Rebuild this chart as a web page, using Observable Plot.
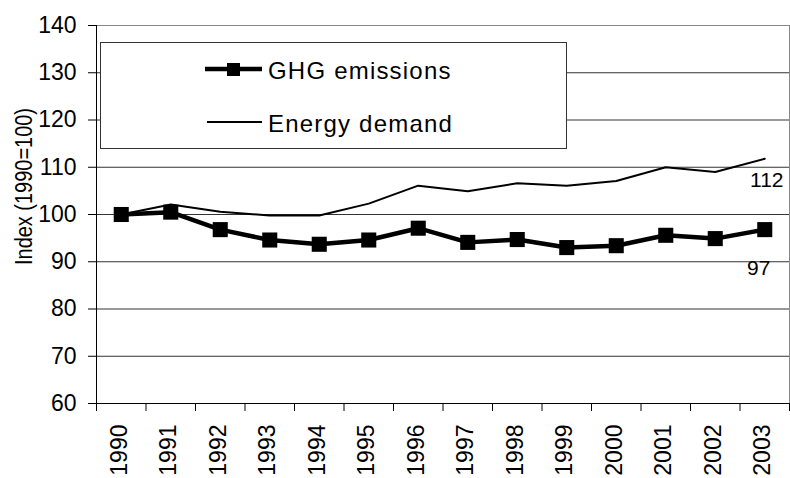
<!DOCTYPE html>
<html>
<head>
<meta charset="utf-8">
<script src="https://cdn.jsdelivr.net/npm/d3@7"></script>
<script src="https://cdn.jsdelivr.net/npm/@observablehq/plot@0.6"></script>
<style>
  html, body { margin: 0; padding: 0; background: #fff; }
  #wrap { position: relative; width: 790px; height: 478px; overflow: hidden; font-family: "Liberation Sans", Arial, sans-serif; }
  #legend { position: absolute; left: 100px; top: 42px; width: 465px; height: 105px; border: 1px solid #333; background: #fff; }
</style>
</head>
<body>
<div id="wrap"></div>
<script>
const years = [1990, 1991, 1992, 1993, 1994, 1995, 1996, 1997, 1998, 1999, 2000, 2001, 2002, 2003];
const ghgValues = [100, 100.5, 96.8, 94.6, 93.7, 94.6, 97.1, 94.1, 94.7, 93.0, 93.4, 95.6, 94.9, 96.8];
const energyValues = [100, 102.1, 100.6, 99.8, 99.8, 102.3, 106.1, 104.9, 106.6, 106.1, 107.1, 110.0, 109.0, 111.8];
const yTicks = [60, 70, 80, 90, 100, 110, 120, 130, 140];
const seriesNames = ["GHG emissions", "Energy demand"];
const yLabel = "Index (1990=100)";
const endLabels = ["97", "112"];

const ghg = years.map((year, i) => ({year, value: ghgValues[i]}));
const energy = years.map((year, i) => ({year, value: energyValues[i]}));
const boundaries = [years[0] - 0.5, ...years.map(y => y + 0.5)];
const gridTicks = yTicks.slice(1, -1);
const last = years.length - 1;

const chart = Plot.plot({
  width: 790,
  height: 478,
  marginLeft: 96,
  marginRight: 1,
  marginTop: 25,
  marginBottom: 75,
  x: {type: "linear", domain: [boundaries[0], boundaries[boundaries.length - 1]]},
  y: {domain: [yTicks[0], yTicks[yTicks.length - 1]]},
  style: {fontFamily: "'Liberation Sans', Arial, sans-serif", color: "#000", background: "#fff", overflow: "visible"},
  marks: [
    Plot.gridY(gridTicks, {stroke: "#000", strokeOpacity: 0.8}),
    Plot.ruleY([yTicks[yTicks.length - 1]], {stroke: "#888"}),
    Plot.ruleX([boundaries[boundaries.length - 1]], {stroke: "#888"}),
    Plot.frame({anchor: "left", stroke: "#000"}),
    Plot.frame({anchor: "bottom", stroke: "#000"}),
    Plot.axisY(yTicks, {tickSize: 8, tickPadding: 12, label: null, fontSize: 23, letterSpacing: 1.5, tickFormat: d => String(d)}),
    Plot.axisX(boundaries, {tickSize: 8, tickFormat: () => "", label: null}),
    Plot.axisX(years, {tickSize: 0, tickPadding: 21, tickRotate: -90, fontSize: 23, dx: -2, tickFormat: d => String(d), label: null}),
    Plot.line(energy, {x: "year", y: "value", stroke: "#000", strokeWidth: 2}),
    Plot.line(ghg, {x: "year", y: "value", stroke: "#000", strokeWidth: 4.5}),
    Plot.dot(ghg, {x: "year", y: "value", symbol: "square", r: 8.5, fill: "#000", stroke: "none"}),
    Plot.text([energy[last]], {x: "year", y: "value", text: () => endLabels[1], dx: 2, dy: 22, fontSize: 21, letterSpacing: 1}),
    Plot.text([ghg[last]], {x: "year", y: "value", text: () => endLabels[0], dx: -6, dy: 39, fontSize: 21, letterSpacing: 1}),
    Plot.text([yLabel], {frameAnchor: "left", textAnchor: "middle", rotate: -90, dx: -72, dy: -28, fontSize: 23})
  ]
});

// Narrow the rotated axis title along its length so it matches the reference's proportions
for (const t of chart.querySelectorAll("text")) {
  if (t.textContent === yLabel) {
    t.setAttribute("textLength", 157);
    t.setAttribute("lengthAdjust", "spacingAndGlyphs");
  }
}

const wrap = document.getElementById("wrap");
wrap.appendChild(chart);

const legend = document.createElement("div");
legend.id = "legend";
const ns = "http://www.w3.org/2000/svg";
const lsvg = document.createElementNS(ns, "svg");
lsvg.setAttribute("width", 465);
lsvg.setAttribute("height", 105);
lsvg.style.fontFamily = "'Liberation Sans', Arial, sans-serif";
function el(tag, attrs) {
  const e = document.createElementNS(ns, tag);
  for (const k in attrs) e.setAttribute(k, attrs[k]);
  lsvg.appendChild(e);
  return e;
}
el("line", {x1: 104, x2: 161, y1: 26, y2: 26, stroke: "#000", "stroke-width": 4.5});
el("rect", {x: 126, y: 20, width: 13, height: 13, fill: "#000"});
const t1 = el("text", {x: 167, y: 27, "font-size": 24, "dominant-baseline": "central", "letter-spacing": "1.2"});
t1.textContent = seriesNames[0];
el("line", {x1: 106, x2: 161, y1: 79, y2: 79, stroke: "#000", "stroke-width": 2});
const t2 = el("text", {x: 167, y: 80, "font-size": 24, "dominant-baseline": "central", "letter-spacing": "1.2"});
t2.textContent = seriesNames[1];
legend.appendChild(lsvg);
wrap.appendChild(legend);
</script>
</body>
</html>
